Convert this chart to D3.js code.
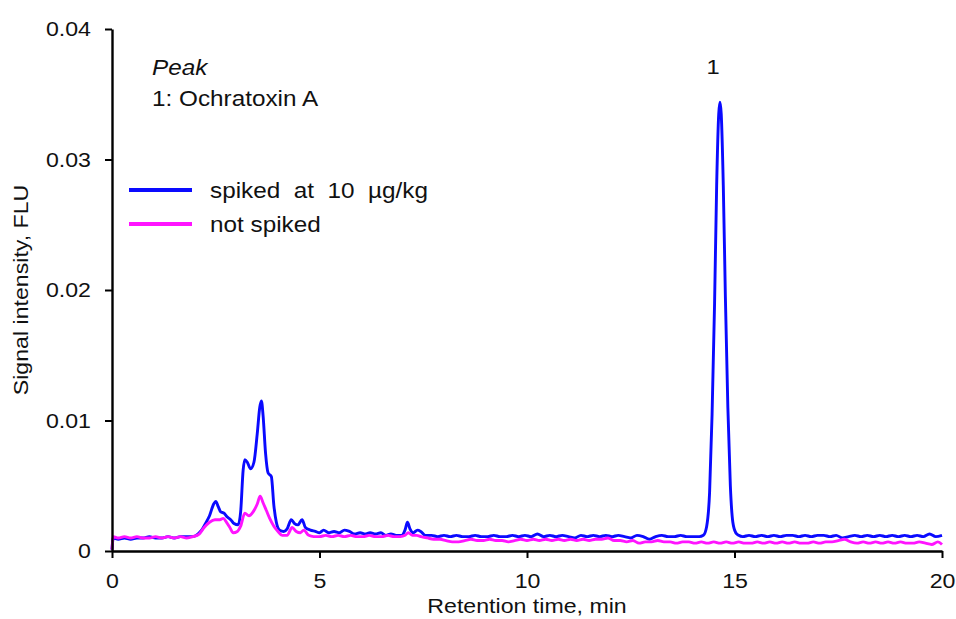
<!DOCTYPE html>
<html>
<head>
<meta charset="utf-8">
<script src="https://cdn.jsdelivr.net/npm/d3@7"></script>
<style>
  body { margin: 0; background: #fff; }
  text { font-family: "Liberation Sans", Arial, sans-serif; fill: #111; }
</style>
</head>
<body>
<div id="chart"></div>
<script>
// retention time (min), signal (FLU)
const spiked = [
  [0.00, 0.0001], [0.03, 0.0010], [0.15, 0.0009], [0.30, 0.0010], [0.45, 0.0009], [0.60, 0.0010],
  [0.75, 0.0010], [0.90, 0.0011], [1.05, 0.0010], [1.20, 0.0010], [1.35, 0.0011], [1.50, 0.0010],
  [1.65, 0.0011], [1.80, 0.0011], [1.95, 0.0011], [2.07, 0.0013], [2.16, 0.0016], [2.25, 0.0021],
  [2.35, 0.0027], [2.45, 0.0036], [2.50, 0.0038], [2.56, 0.0034], [2.62, 0.0030], [2.70, 0.0029],
  [2.78, 0.0026], [2.86, 0.0024], [2.94, 0.0021], [3.04, 0.0020], [3.10, 0.0030], [3.16, 0.0062],
  [3.20, 0.0070], [3.26, 0.0068], [3.34, 0.0063], [3.42, 0.0068], [3.50, 0.0090], [3.56, 0.0110],
  [3.60, 0.0115], [3.64, 0.0104], [3.70, 0.0075], [3.76, 0.0060], [3.84, 0.0057], [3.90, 0.0035],
  [3.96, 0.0022], [4.04, 0.0016], [4.14, 0.0015], [4.22, 0.0017], [4.32, 0.0024], [4.40, 0.0021],
  [4.48, 0.0020], [4.58, 0.0024], [4.66, 0.0018], [4.78, 0.0016], [4.90, 0.0015], [5.00, 0.0014],
  [5.10, 0.0016], [5.22, 0.0014], [5.35, 0.0015], [5.48, 0.0014], [5.60, 0.0016], [5.72, 0.0015],
  [5.85, 0.0013], [5.98, 0.0014], [6.10, 0.0013], [6.22, 0.0014], [6.35, 0.0013], [6.48, 0.0014],
  [6.60, 0.0012], [6.72, 0.0013], [6.85, 0.0012], [6.98, 0.0012], [7.06, 0.0016], [7.12, 0.0022],
  [7.18, 0.0017], [7.26, 0.0014], [7.36, 0.0016], [7.44, 0.0015], [7.55, 0.0012], [7.70, 0.0012],
  [7.85, 0.0011], [8.00, 0.0012], [8.15, 0.0011], [8.30, 0.0012], [8.45, 0.0011], [8.60, 0.0011],
  [8.75, 0.0012], [8.90, 0.0011], [9.05, 0.0011], [9.20, 0.0012], [9.35, 0.0011], [9.50, 0.0011],
  [9.65, 0.0012], [9.80, 0.0011], [9.95, 0.0012], [10.10, 0.0011], [10.25, 0.0013], [10.40, 0.0011],
  [10.55, 0.0012], [10.70, 0.0011], [10.85, 0.0012], [11.00, 0.0011], [11.15, 0.0010], [11.30, 0.0012],
  [11.45, 0.0011], [11.60, 0.0012], [11.75, 0.0011], [11.90, 0.0012], [12.05, 0.0011], [12.20, 0.0012],
  [12.35, 0.0011], [12.50, 0.0010], [12.65, 0.0012], [12.80, 0.0011], [12.95, 0.0009], [13.10, 0.0011],
  [13.25, 0.0012], [13.40, 0.0011], [13.55, 0.0011], [13.70, 0.0012], [13.85, 0.0011], [14.00, 0.0011],
  [14.15, 0.0011], [14.25, 0.0012], [14.33, 0.0019], [14.40, 0.0045], [14.46, 0.0105], [14.52, 0.0190],
  [14.57, 0.0280], [14.62, 0.0335], [14.65, 0.0344], [14.68, 0.0335], [14.73, 0.0280], [14.78, 0.0195],
  [14.84, 0.0110], [14.90, 0.0050], [14.96, 0.0022], [15.03, 0.0014], [15.10, 0.0012], [15.20, 0.0011],
  [15.35, 0.0012], [15.50, 0.0011], [15.65, 0.0012], [15.80, 0.0011], [15.95, 0.0012], [16.10, 0.0011],
  [16.25, 0.0012], [16.40, 0.0012], [16.55, 0.0011], [16.70, 0.0012], [16.85, 0.0011], [17.00, 0.0012],
  [17.15, 0.0012], [17.30, 0.0011], [17.45, 0.0012], [17.60, 0.0010], [17.75, 0.0011], [17.90, 0.0012],
  [18.05, 0.0011], [18.20, 0.0012], [18.35, 0.0011], [18.50, 0.0012], [18.65, 0.0011], [18.80, 0.0012],
  [18.95, 0.0011], [19.10, 0.0012], [19.25, 0.0011], [19.40, 0.0012], [19.55, 0.0011], [19.70, 0.0013],
  [19.85, 0.0011], [20.00, 0.0012]
];

const notSpiked = [
  [0.00, 0.0001], [0.03, 0.0011], [0.15, 0.0010], [0.30, 0.0011], [0.45, 0.0010], [0.60, 0.0011],
  [0.75, 0.0010], [0.90, 0.0010], [1.05, 0.0011], [1.20, 0.0010], [1.35, 0.0011], [1.50, 0.0010],
  [1.65, 0.0011], [1.80, 0.0010], [1.95, 0.0011], [2.10, 0.0013], [2.22, 0.0018], [2.35, 0.0022],
  [2.48, 0.0024], [2.60, 0.0024], [2.68, 0.0025], [2.76, 0.0022], [2.84, 0.0018], [2.92, 0.0014],
  [3.02, 0.0015], [3.10, 0.0019], [3.20, 0.0029], [3.30, 0.0027], [3.40, 0.0030], [3.50, 0.0036],
  [3.57, 0.0042], [3.64, 0.0037], [3.72, 0.0031], [3.80, 0.0025], [3.90, 0.0019], [4.00, 0.0015],
  [4.10, 0.0012], [4.22, 0.0012], [4.34, 0.0018], [4.44, 0.0015], [4.54, 0.0014], [4.62, 0.0016],
  [4.74, 0.0012], [4.86, 0.0011], [5.00, 0.0011], [5.15, 0.0012], [5.30, 0.0011], [5.45, 0.0012],
  [5.60, 0.0011], [5.75, 0.0012], [5.90, 0.0011], [6.05, 0.0011], [6.20, 0.0012], [6.35, 0.0011],
  [6.50, 0.0011], [6.65, 0.0012], [6.80, 0.0011], [6.95, 0.0011], [7.06, 0.0012], [7.14, 0.0014],
  [7.24, 0.0012], [7.34, 0.0012], [7.45, 0.0011], [7.60, 0.0010], [7.75, 0.0009], [7.90, 0.0009],
  [8.05, 0.0008], [8.20, 0.0007], [8.35, 0.0007], [8.50, 0.0008], [8.65, 0.0009], [8.80, 0.0008],
  [8.95, 0.0008], [9.10, 0.0009], [9.25, 0.0008], [9.40, 0.0008], [9.55, 0.0007], [9.70, 0.0008],
  [9.85, 0.0009], [10.00, 0.0008], [10.15, 0.0009], [10.30, 0.0008], [10.45, 0.0009], [10.60, 0.0008],
  [10.75, 0.0009], [10.90, 0.0008], [11.05, 0.0009], [11.20, 0.0008], [11.35, 0.0009], [11.50, 0.0008],
  [11.65, 0.0009], [11.80, 0.0009], [11.95, 0.0010], [12.10, 0.0008], [12.25, 0.0008], [12.40, 0.0007],
  [12.55, 0.0008], [12.70, 0.0006], [12.85, 0.0007], [13.00, 0.0007], [13.15, 0.0008], [13.30, 0.0007],
  [13.45, 0.0007], [13.60, 0.0006], [13.75, 0.0007], [13.90, 0.0007], [14.05, 0.0006], [14.20, 0.0007],
  [14.35, 0.0006], [14.50, 0.0007], [14.65, 0.0006], [14.80, 0.0007], [14.95, 0.0006], [15.10, 0.0007],
  [15.25, 0.0006], [15.40, 0.0006], [15.55, 0.0007], [15.70, 0.0006], [15.85, 0.0007], [16.00, 0.0006],
  [16.15, 0.0007], [16.30, 0.0006], [16.45, 0.0007], [16.60, 0.0006], [16.75, 0.0006], [16.90, 0.0007],
  [17.05, 0.0006], [17.20, 0.0007], [17.35, 0.0007], [17.50, 0.0008], [17.65, 0.0009], [17.80, 0.0007],
  [17.95, 0.0006], [18.10, 0.0007], [18.25, 0.0006], [18.40, 0.0007], [18.55, 0.0006], [18.70, 0.0007],
  [18.85, 0.0006], [19.00, 0.0007], [19.15, 0.0006], [19.30, 0.0006], [19.45, 0.0007], [19.60, 0.0006],
  [19.75, 0.0005], [19.90, 0.0007], [20.00, 0.0005]
];

const xTicks = [0, 5, 10, 15, 20];
const yTicks = [0, 0.01, 0.02, 0.03, 0.04];
const legendLabels = ["spiked  at  10  µg/kg", "not spiked"];
const peakLabel = "1";
const peakTime = 14.65;

const W = 956, H = 619;
const SX = 1.13; // the reference text is a bit wide

const svg = d3.select("#chart").append("svg")
  .attr("width", W).attr("height", H);

const x = d3.scaleLinear().domain([0, 20]).range([112, 942]);
const y = d3.scaleLinear().domain([0, 0.04]).range([551, 29]);

// stretch a text element horizontally, keeping its anchor point
function stretch(sel) {
  sel.each(function () {
    const t = d3.select(this);
    const tx = +t.attr("x") || 0;
    t.attr("x", tx / SX).attr("transform", `scale(${SX},1)`);
  });
}

function label(px, py, str, opts = {}) {
  const t = svg.append("text")
    .attr("transform", `translate(${px},${py}) scale(${SX},1)`)
    .attr("text-anchor", opts.anchor || "start")
    .style("font-size", (opts.size || 20) + "px")
    .style("font-style", opts.italic ? "italic" : "normal")
    .attr("xml:space", "preserve")
    .text(str);
  return t;
}

// lines
const line = d3.line()
  .x(d => x(d[0]))
  .y(d => y(d[1]))
  .curve(d3.curveMonotoneX);

svg.append("path").datum(spiked)
  .attr("fill", "none").attr("stroke", "#0a0aff").attr("stroke-width", 2.9)
  .attr("stroke-linejoin", "round").attr("d", line);
svg.append("path").datum(notSpiked)
  .attr("fill", "none").attr("stroke", "#ff14ff").attr("stroke-width", 2.9)
  .attr("stroke-linejoin", "round").attr("d", line);

// axes
const yAxis = svg.append("g")
  .attr("transform", `translate(${x(0)},0)`)
  .call(d3.axisLeft(y).tickValues(yTicks)
    .tickFormat(d => d === 0 ? "0" : d3.format(".2f")(d))
    .tickSize(7).tickSizeOuter(0).tickPadding(14));

const xAxis = svg.append("g")
  .attr("transform", `translate(0,${y(0)})`)
  .call(d3.axisBottom(x).tickValues(xTicks)
    .tickSize(7).tickSizeOuter(0).tickPadding(15));

[xAxis, yAxis].forEach(g => {
  g.select(".domain").attr("stroke", "#000").attr("stroke-width", 2.4);
  g.selectAll(".tick line").attr("stroke", "#000").attr("stroke-width", 2);
  g.selectAll(".tick text")
    .attr("fill", "#111")
    .style("font-size", "20.5px")
    .style("font-family", "'Liberation Sans', Arial, sans-serif")
    .call(stretch);
});

// axis titles
label((x(0) + x(20)) / 2, 613, "Retention time, min", { anchor: "middle", size: 20.5 });
svg.append("text")
  .attr("transform", `translate(28,${(y(0) + y(0.04)) / 2}) rotate(-90) scale(${SX},1)`)
  .attr("text-anchor", "middle")
  .style("font-size", "20.5px")
  .text("Signal intensity, FLU");

// peak annotations
label(152, 75, "Peak", { italic: true, size: 21.5 });
label(152, 106, "1: Ochratoxin A", { size: 21.5 });
label(x(peakTime) - 7, 74, peakLabel, { anchor: "middle", size: 21 });

// legend
const legendColors = ["#0a0aff", "#ff14ff"];
const legendY = [190, 224];
legendLabels.forEach((lab, i) => {
  svg.append("line")
    .attr("x1", 129).attr("x2", 192)
    .attr("y1", legendY[i]).attr("y2", legendY[i])
    .attr("stroke", legendColors[i]).attr("stroke-width", 3.8);
  label(210, legendY[i] + 7.5, lab, { size: 21.5 });
});
</script>
</body>
</html>
